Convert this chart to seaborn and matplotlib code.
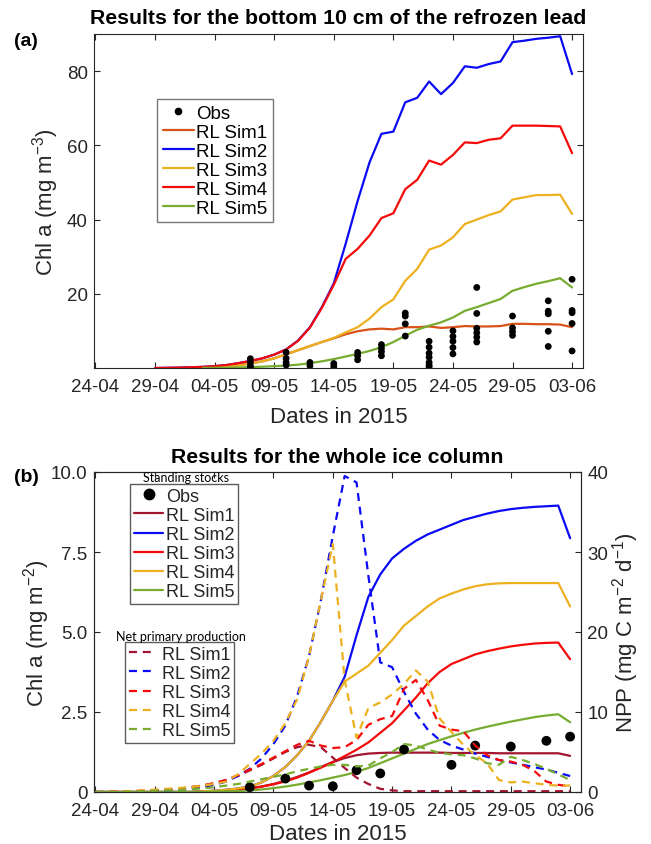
import numpy as np
import pandas as pd
import matplotlib
matplotlib.use("Agg")
import matplotlib.pyplot as plt
from matplotlib.lines import Line2D
import seaborn as sns

sns.set_theme(style="white")
plt.rcParams["font.family"] = ["Liberation Sans", "DejaVu Sans"]
plt.rcParams["mathtext.fontset"] = "custom"
plt.rcParams["mathtext.rm"] = "Liberation Sans"
plt.rcParams["mathtext.it"] = "Liberation Sans"

nan = np.nan

# ---------------- data ----------------
# daily model output, 24 April -> 3 June 2015
dates = pd.date_range("2015-04-24", "2015-06-03", freq="D")
tick_dates = pd.to_datetime(["2015-04-24", "2015-04-29", "2015-05-04", "2015-05-09",
                             "2015-05-14", "2015-05-19", "2015-05-24", "2015-05-29",
                             "2015-06-03"])
tick_labels = ["24-04", "29-04", "04-05", "09-05", "14-05", "19-05", "24-05", "29-05", "03-06"]

# (a) bottom 10 cm of the refrozen lead, Chl a (mg m-3)
sim_labels = ["RL Sim1", "RL Sim2", "RL Sim3", "RL Sim4", "RL Sim5"]
a_sim1 = [nan] * 9 + [0.0, 0.15, 0.4, 0.75, 1.2, 1.8, 2.6, 3.7, 4.8, 5.9, 7.0, 8.0, 9.1, 9.9,
                      10.4, 10.6, 10.4, 11.0, 11.0, 11.2, 10.8, 11.0, 11.3, 11.2, 11.2, 11.3,
                      11.9, 11.9, 11.8, 11.8, 11.7, 11.0]
a_sim2 = [nan] * 5 + [0.0, 0.05, 0.1, 0.2, 0.3, 0.5, 0.8, 1.3, 1.9, 2.6, 3.6, 5.0, 7.4, 11.0,
                      16.4, 22.8, 33.5, 45.0, 55.4, 63.1, 63.7, 71.6, 72.8, 77.2, 73.8, 76.8,
                      81.3, 80.9, 81.9, 82.6, 87.8, 88.2, 88.7, 89.0, 89.4, 79.2]
a_sim3 = [nan] * 9 + [0.0, 0.15, 0.4, 0.75, 1.2, 1.8, 2.6, 3.7, 4.8, 5.9, 7.0, 8.1, 9.6, 11.0,
                      13.3, 16.4, 18.5, 23.5, 26.7, 31.9, 33.0, 35.2, 38.8, 40.0, 41.2, 42.2,
                      45.4, 46.0, 46.6, 46.6, 46.7, 41.5]
a_sim4 = [nan] * 5 + [0.0, 0.05, 0.1, 0.2, 0.3, 0.5, 0.8, 1.3, 1.9, 2.6, 3.6, 5.0, 7.3, 10.9,
                      16.2, 22.4, 29.4, 32.1, 35.7, 40.4, 41.7, 48.2, 50.7, 55.9, 54.8, 57.4,
                      60.8, 60.6, 61.5, 61.9, 65.3, 65.3, 65.3, 65.2, 65.1, 57.9]
a_sim5 = [nan] * 9 + [0.0, 0.05, 0.1, 0.15, 0.25, 0.35, 0.5, 0.65, 0.9, 1.3, 1.8, 2.4, 3.1, 3.8,
                      4.6, 5.6, 7.0, 8.7, 10.3, 11.4, 12.3, 13.6, 15.4, 16.4, 17.5, 18.6,
                      20.8, 21.8, 22.7, 23.4, 24.2, 21.7]

obs_a_dates = (["2015-05-07"] * 4 + ["2015-05-10"] * 4 + ["2015-05-12"] * 2 +
               ["2015-05-14"] * 2 + ["2015-05-16"] * 3 + ["2015-05-18"] * 4 +
               ["2015-05-20"] * 4 + ["2015-05-22"] * 7 + ["2015-05-24"] * 5 +
               ["2015-05-26"] * 6 + ["2015-05-29"] * 4 + ["2015-06-01"] * 5 +
               ["2015-06-03"] * 5)
obs_a_vals = [0.1, 0.6, 1.5, 2.5,
              0.8, 1.5, 2.6, 4.2,
              0.6, 1.5,
              0.4, 1.2,
              2.2, 3.3, 4.2,
              3.3, 4.4, 5.3, 6.3,
              8.6, 11.9, 14.0, 14.8,
              0.3, 0.8, 1.5, 2.9, 4.0, 5.6, 7.2,
              3.8, 5.5, 7.2, 8.5, 10.0,
              7.0, 8.3, 9.5, 10.7, 14.7, 21.7,
              8.8, 9.8, 10.8, 14.0,
              5.8, 9.9, 14.6, 15.3, 18.1,
              4.6, 12.0, 14.9, 15.5, 23.9]

# (b) whole ice column: standing stocks, Chl a (mg m-2)
b_sim1 = [0.0] * 9 + [0.01, 0.02, 0.04, 0.07, 0.11, 0.17, 0.25, 0.35, 0.47, 0.61, 0.78, 0.94,
                      1.06, 1.15, 1.2, 1.22, 1.23, 1.23, 1.23, 1.23, 1.23, 1.22, 1.22, 1.22,
                      1.22, 1.21, 1.21, 1.21, 1.21, 1.21, 1.21, 1.13]
b_sim2 = [0.0] * 9 + [0.02, 0.04, 0.07, 0.11, 0.17, 0.3, 0.5, 0.78, 1.15, 1.6, 2.2, 2.85,
                      3.6, 4.9, 6.1, 6.8, 7.3, 7.6, 7.85, 8.05, 8.2, 8.35, 8.5, 8.6, 8.7,
                      8.78, 8.84, 8.88, 8.91, 8.93, 8.95, 7.93]
b_sim3 = [0.0] * 9 + [0.01, 0.02, 0.04, 0.07, 0.11, 0.17, 0.24, 0.33, 0.45, 0.6, 0.76, 0.93,
                      1.12, 1.32, 1.55, 1.85, 2.15, 2.55, 2.95, 3.4, 3.75, 4.0, 4.15, 4.3,
                      4.4, 4.48, 4.55, 4.6, 4.64, 4.66, 4.67, 4.15]
b_sim4 = [0.0] * 9 + [0.02, 0.04, 0.07, 0.11, 0.17, 0.3, 0.5, 0.78, 1.15, 1.6, 2.2, 2.85,
                      3.45, 3.7, 3.95, 4.35, 4.75, 5.2, 5.5, 5.8, 6.05, 6.2, 6.33, 6.43,
                      6.49, 6.52, 6.53, 6.53, 6.53, 6.53, 6.53, 5.8]
b_sim5 = [0.0] * 10 + [0.01, 0.02, 0.03, 0.05, 0.08, 0.12, 0.17, 0.23, 0.3, 0.37, 0.45,
                       0.53, 0.63, 0.75, 0.9, 1.05, 1.2, 1.35, 1.5, 1.62, 1.74, 1.85, 1.95,
                       2.04, 2.12, 2.2, 2.27, 2.34, 2.39, 2.43, 2.18]

# (b) net primary production, NPP (mg C m-2 d-1)
npp_sim1 = [0, 0, 0.05, 0.1, 0.15, 0.2, 0.3, 0.4, 0.6, 0.8,
            1.1, 1.5, 2.0, 2.7, 3.4, 4.2, 5.0, 5.6, 5.9, 5.6,
            4.3, 3.0, 1.8, 1.0, 0.4, 0.2] + [0.1] * 15
npp_sim2 = [0, 0, 0, 0.05, 0.1, 0.15, 0.2, 0.3, 0.4, 0.6,
            0.9, 1.3, 2.0, 2.9, 4.2, 6.0, 8.3, 12.0, 17.0, 24.0,
            32.0, 39.5, 38.7, 27.0, 16.2, 15.6, 12.5, 9.8, 7.8, 6.5,
            5.8, 5.3, 4.8, 4.4, 4.0, 3.7, 3.4, 3.1, 2.8, 2.4, 2.0]
npp_sim3 = [0, 0, 0.05, 0.1, 0.15, 0.2, 0.3, 0.4, 0.6, 0.8,
            1.1, 1.5, 2.1, 2.8, 3.5, 4.3, 5.1, 5.9, 6.4, 5.8,
            5.5, 5.6, 6.5, 8.4, 9.1, 9.5, 12.9, 14.0, 11.5, 8.3,
            7.8, 7.6, 5.8, 4.6, 4.0, 3.8, 3.4, 2.6, 1.3, 0.9, 0.7]
npp_sim4 = [0, 0, 0.05, 0.1, 0.2, 0.3, 0.4, 0.5, 0.6, 0.8,
            1.0, 1.3, 2.2, 3.5, 4.8, 6.4, 8.6, 11.6, 17.0, 24.0,
            31.0, 14.0, 6.8, 10.5, 11.2, 12.2, 13.5, 15.2, 13.8, 9.2,
            7.5, 5.9, 4.6, 3.6, 1.5, 1.2, 1.3, 1.1, 0.9, 0.8, 0.8]
npp_sim5 = [0, 0, 0, 0.05, 0.1, 0.15, 0.2, 0.25, 0.35, 0.45,
            0.6, 0.8, 1.0, 1.3, 1.6, 1.9, 2.2, 2.6, 2.9, 3.2,
            3.4, 3.4, 3.2, 3.3, 4.2, 5.0, 6.0, 5.8, 5.3, 4.9,
            4.7, 4.6, 4.2, 3.6, 3.4, 4.4, 4.0, 3.5, 2.9, 2.2, 1.5]

obs_b_dates = ["2015-05-07", "2015-05-10", "2015-05-12", "2015-05-14", "2015-05-16",
               "2015-05-18", "2015-05-20", "2015-05-24", "2015-05-26", "2015-05-29",
               "2015-06-01", "2015-06-03"]
obs_b_vals = [0.15, 0.42, 0.2, 0.18, 0.68, 0.58, 1.33, 0.85, 1.45, 1.42, 1.6, 1.73]

# ---------------- styling ----------------
C_ORANGERED = "#D95319"
C_BLUE = "#0A0AF5"
C_RED = "#F50A0A"
C_GOLD = "#EDB120"
C_GREEN = "#77AC30"
C_DARKRED = "#A2142F"
AX_COL = "#262626"
LW = 1.6
DASH = (0, (3.6, 2.6))

colors_a = [C_ORANGERED, C_BLUE, C_GOLD, C_RED, C_GREEN]
colors_b = [C_DARKRED, C_BLUE, C_RED, C_GOLD, C_GREEN]

W, H = 651, 845
fig = plt.figure(figsize=(W / 100, H / 100), dpi=100)
fig.patch.set_facecolor("white")


def fx(px):
    return px / W


def fy(py):
    return 1 - py / H


x_lo = pd.Timestamp("2015-04-24") - pd.Timedelta(hours=3)
x_hi = pd.Timestamp("2015-06-03") + pd.Timedelta(hours=22)


def style_axes(ax):
    ax.set_facecolor("white")
    for s in ax.spines.values():
        s.set_color(AX_COL)
        s.set_linewidth(0.8)
        s.set_visible(True)
    ax.set_xlim(x_lo, x_hi)
    ax.set_xticks(tick_dates)
    ax.set_xticklabels(tick_labels)
    ax.tick_params(axis="both", which="both", direction="in", length=4.5, width=0.8,
                   colors=AX_COL, labelsize=13.5)
    ax.tick_params(axis="x", top=True, bottom=True, pad=7.5)
    ax.tick_params(axis="y", pad=4.5)
    ax.grid(False)
    ax.set_xlabel("")
    ax.set_ylabel("")


# ---------------- (a) ----------------
ax1 = fig.add_axes([fx(94), fy(369), fx(489), 334 / H])
series_a = [a_sim1, a_sim2, a_sim3, a_sim4, a_sim5]
for vals, col in zip(series_a, colors_a):
    sns.lineplot(x=dates, y=vals, color=col, linewidth=LW, ax=ax1,
                 estimator=None, sort=False)
sns.scatterplot(x=pd.to_datetime(obs_a_dates), y=obs_a_vals, color="black", s=24,
                edgecolor="none", ax=ax1, zorder=5)
style_axes(ax1)
ax1.set_ylim(0, 90)
ax1.set_yticks([20, 40, 60, 80])
ax1.tick_params(axis="y", left=True, right=True)

h_a = [Line2D([], [], color="black", marker="o", markersize=4.5, linestyle="none")]
h_a += [Line2D([], [], color=c, lw=LW) for c in colors_a]
leg_a = ax1.legend(h_a, ["Obs"] + sim_labels, loc="upper left",
                   bbox_to_anchor=(fx(157), fy(100)), bbox_transform=fig.transFigure,
                   borderaxespad=0, fontsize=13.5, frameon=True, fancybox=False,
                   handlelength=1.65, handletextpad=0.15, labelspacing=0.1,
                   borderpad=0.3)
leg_a.get_frame().set_edgecolor("#555555")
leg_a.get_frame().set_linewidth(1.0)
for t in leg_a.get_texts():
    t.set_color("black")

fig.text(fx(338.5), fy(19), "Results for the bottom 10 cm of the refrozen lead",
         ha="center", va="center", fontsize=15.3, fontweight="bold", color="black")
fig.text(fx(26), fy(42), "(a)", ha="center", va="center", fontsize=14,
         fontweight="bold", color="black")
fig.text(fx(46), fy(202), "Chl a (mg m$^{-3}$)", ha="center", va="center",
         rotation=90, fontsize=16, color=AX_COL)
fig.text(fx(338.5), fy(418), "Dates in 2015", ha="center", va="center",
         fontsize=16, color=AX_COL)

# ---------------- (b) ----------------
ax2 = fig.add_axes([fx(94), fy(793), fx(487), 320 / H])
ax2r = ax2.twinx()
series_b = [b_sim1, b_sim2, b_sim3, b_sim4, b_sim5]
for vals, col in zip(series_b, colors_b):
    sns.lineplot(x=dates, y=vals, color=col, linewidth=LW, ax=ax2,
                 estimator=None, sort=False)
sns.scatterplot(x=pd.to_datetime(obs_b_dates), y=obs_b_vals, color="black", s=50,
                edgecolor="none", ax=ax2, zorder=5)
series_npp = [npp_sim1, npp_sim2, npp_sim3, npp_sim4, npp_sim5]
for vals, col in zip(series_npp, colors_b):
    sns.lineplot(x=dates, y=vals, color=col, linewidth=LW, linestyle=DASH, ax=ax2r,
                 estimator=None, sort=False)

style_axes(ax2)
style_axes(ax2r)
ax2.set_ylim(0, 10)
ax2.set_yticks([0, 2.5, 5.0, 7.5, 10.0])
ax2.set_yticklabels(["0", "2.5", "5.0", "7.5", "10.0"])
ax2.tick_params(axis="y", left=True, right=False)
ax2r.set_ylim(0, 40)
ax2r.set_yticks([0, 10, 20, 30, 40])
ax2r.tick_params(axis="y", left=False, right=True, labelleft=False, labelright=True)
ax2r.tick_params(axis="x", top=True, bottom=False, labelbottom=False)

h_ss = [Line2D([], [], color="black", marker="o", markersize=7.5, linestyle="none")]
h_ss += [Line2D([], [], color=c, lw=LW) for c in colors_b]
leg_ss = ax2r.legend(h_ss, ["Obs"] + sim_labels, loc="upper left",
                     bbox_to_anchor=(fx(130), fy(485)), bbox_transform=fig.transFigure,
                     borderaxespad=0, fontsize=13, frameon=True, fancybox=False,
                     handlelength=1.65, handletextpad=0.15, labelspacing=0.12,
                     borderpad=0.2)
leg_ss.get_frame().set_edgecolor("#333333")
leg_ss.get_frame().set_linewidth(1.0)
ax2r.add_artist(leg_ss)

h_npp = [Line2D([], [], color=c, lw=LW, linestyle=DASH) for c in colors_b]
leg_npp = ax2r.legend(h_npp, sim_labels, loc="upper left",
                      bbox_to_anchor=(fx(125), fy(643)), bbox_transform=fig.transFigure,
                      borderaxespad=0, fontsize=13, frameon=True, fancybox=False,
                      handlelength=1.35, handletextpad=0.5, labelspacing=0.12,
                      borderpad=0.2)
leg_npp.get_frame().set_edgecolor("#333333")
leg_npp.get_frame().set_linewidth(1.0)

fig.text(fx(186), fy(478), "Standing stocks", ha="center", va="center",
         fontsize=9, family=["Lato", "DejaVu Sans"], color="black")
fig.text(fx(181), fy(637), "Net primary production", ha="center", va="center",
         fontsize=9, family=["Lato", "DejaVu Sans"], color="black")

fig.text(fx(337.5), fy(458), "Results for the whole ice column", ha="center",
         va="center", fontsize=15.3, fontweight="bold", color="black")
fig.text(fx(26), fy(478), "(b)", ha="center", va="center", fontsize=14,
         fontweight="bold", color="black")
fig.text(fx(37), fy(633), "Chl a (mg m$^{-2}$)", ha="center", va="center",
         rotation=90, fontsize=16, color=AX_COL)
fig.text(fx(626), fy(633), "NPP (mg C m$^{-2}$ d$^{-1}$)", ha="center", va="center",
         rotation=90, fontsize=16, color=AX_COL)
fig.text(fx(337.5), fy(835), "Dates in 2015", ha="center", va="center",
         fontsize=16, color=AX_COL)

fig.savefig("out.png", dpi=100, facecolor="white")
